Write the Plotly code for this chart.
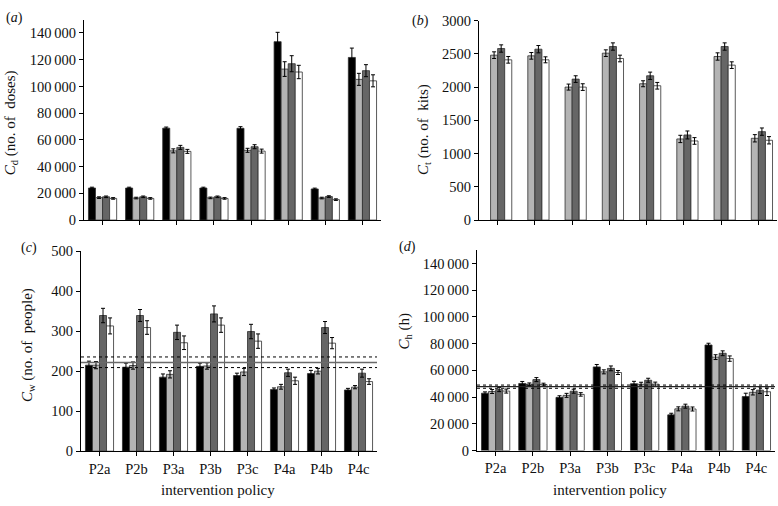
import plotly.graph_objects as go

policies = ["P2a", "P2b", "P3a", "P3b", "P3c", "P4a", "P4b", "P4c"]
series_names = ["strategy 1", "strategy 2", "strategy 3", "strategy 4"]
series_colors = ["#000000", "#b4b4b4", "#666666", "#ffffff"]

# panel (a) C_d
cd_vals = [
    [24000, 24000, 68800, 24000, 68700, 133500, 23300, 121700],
    [16800, 16500, 51800, 16600, 52200, 113000, 16500, 105300],
    [17400, 17400, 54400, 17400, 54900, 117000, 17600, 111800],
    [16200, 16200, 51400, 16200, 51600, 110800, 15300, 104200],
]
cd_err = [
    [600, 600, 800, 600, 1200, 7000, 600, 7000],
    [600, 600, 1500, 600, 1500, 5500, 600, 4500],
    [600, 600, 1500, 600, 1500, 6000, 600, 4500],
    [600, 600, 1500, 600, 1500, 5000, 600, 4500],
]

# panel (b) C_t
ct_vals = [
    [None] * 8,
    [2480, 2470, 2000, 2510, 2050, 1220, 2460, 1230],
    [2580, 2570, 2120, 2610, 2170, 1280, 2610, 1330],
    [2410, 2410, 2000, 2430, 2020, 1190, 2330, 1200],
]
ct_err = [
    [0] * 8,
    [50, 50, 45, 50, 45, 55, 55, 55],
    [55, 55, 50, 55, 55, 60, 55, 55],
    [50, 45, 50, 50, 50, 50, 50, 55],
]

# panel (c) C_w
cw_vals = [
    [215, 210, 185, 212, 189, 154, 194, 153],
    [215, 214, 192, 213, 198, 161, 200, 160],
    [339, 339, 297, 343, 299, 196, 309, 195],
    [313, 309, 271, 315, 275, 176, 270, 174],
]
cw_err = [
    [10, 10, 8, 8, 6, 4, 8, 4],
    [9, 9, 9, 8, 9, 6, 7, 4],
    [18, 15, 18, 20, 18, 9, 15, 10],
    [20, 17, 17, 18, 18, 9, 14, 7],
]
cw_ref = [221.6, 235.5, 209.0]

# panel (d) C_h
ch_vals = [
    [42900, 50200, 39800, 62600, 50000, 26700, 79000, 40400],
    [44200, 49600, 41300, 58900, 49600, 31200, 69900, 43600],
    [45600, 53100, 44400, 61500, 52600, 33200, 72800, 45200],
    [44500, 49400, 42000, 58400, 49700, 31100, 68800, 44000],
]
ch_err = [
    [1000, 1500, 1200, 1800, 1800, 1200, 1300, 2500],
    [1500, 1000, 1500, 1500, 1500, 1500, 1800, 2000],
    [1500, 1500, 1500, 1800, 1500, 1500, 1800, 2500],
    [1500, 1000, 1300, 1500, 1500, 1500, 2000, 2800],
]
ch_ref = [47800, 49000, 46600]

big_ticks = [0, 20000, 40000, 60000, 80000, 100000, 120000, 140000]
big_text = ["0", "20\u2009000", "40\u2009000", "60\u2009000", "80\u2009000",
            "100\u2009000", "120\u2009000", "140\u2009000"]

W, H = 778, 506
FONT = "Liberation Serif"

fig = go.Figure()

panels = [
    ("x", "y", cd_vals, cd_err),
    ("x2", "y2", ct_vals, ct_err),
    ("x3", "y3", cw_vals, cw_err),
    ("x4", "y4", ch_vals, ch_err),
]
for xa, ya, vals, errs in panels:
    for i in range(4):
        fig.add_trace(go.Bar(
            x=policies, y=vals[i], name=series_names[i], xaxis=xa, yaxis=ya,
            marker=dict(color=series_colors[i], line=dict(color="#303030", width=0.8)),
            error_y=dict(type="data", array=errs[i], color="#000000", thickness=1, width=2),
            showlegend=False,
        ))

def px_dom_x(a, b):
    return [a / W, b / W]

def px_dom_y(top, bottom):
    return [1 - bottom / H, 1 - top / H]

axis_common = dict(showline=True, linecolor="#000000", linewidth=1, ticks="outside",
                   ticklen=4, tickcolor="#000000", showgrid=False, zeroline=False,
                   tickfont=dict(family=FONT, size=14.5, color="#111111"))

doms = {
    1: (px_dom_x(84, 381), px_dom_y(12, 219)),
    2: (px_dom_x(479, 777), px_dom_y(13, 219)),
    3: (px_dom_x(81, 377), px_dom_y(251, 457.7)),
    4: (px_dom_x(477, 775), px_dom_y(250, 457)),
}
layout = {}
for k in range(1, 5):
    xs = "xaxis" if k == 1 else f"xaxis{k}"
    ys = "yaxis" if k == 1 else f"yaxis{k}"
    yref = "y" if k == 1 else f"y{k}"
    xref = "x" if k == 1 else f"x{k}"
    layout[xs] = dict(axis_common, domain=doms[k][0], anchor=yref,
                      showticklabels=(k >= 3), range=[-0.5, 7.5])
    layout[ys] = dict(axis_common, domain=doms[k][1], anchor=xref)

layout["yaxis"].update(range=[0, 150000], tickvals=big_ticks, ticktext=big_text)
layout["yaxis2"].update(range=[0, 3000], tickvals=[0, 500, 1000, 1500, 2000, 2500, 3000])
layout["yaxis3"].update(range=[0, 500], tickvals=[0, 100, 200, 300, 400, 500])
layout["yaxis4"].update(range=[0, 150000], tickvals=big_ticks, ticktext=big_text)

fig.update_layout(
    width=W, height=H, margin=dict(l=0, r=0, t=0, b=0),
    plot_bgcolor="white", paper_bgcolor="white",
    barmode="group", bargap=0.24, bargroupgap=0,
    font=dict(family=FONT, size=14, color="#111111"),
    **layout,
)

# reference lines
shapes = []
for j, v in enumerate(cw_ref):
    shapes.append(dict(type="line", xref="x3 domain", yref="y3", x0=0, x1=1, y0=v, y1=v,
                       line=dict(color="#6a6a6a" if j == 0 else "#000000",
                                 width=1.6 if j == 0 else 1,
                                 dash="solid" if j == 0 else "dot")))
for j, v in enumerate(ch_ref):
    shapes.append(dict(type="line", xref="x4 domain", yref="y4", x0=0, x1=1, y0=v, y1=v,
                       line=dict(color="#222222" if j == 0 else "#000000",
                                 width=1.4 if j == 0 else 1,
                                 dash="solid" if j == 0 else "dot")))
fig.update_layout(shapes=shapes)

def ann(text, x, y, size=15, angle=0):
    fig.add_annotation(text=text, x=x / W, y=1 - y / H, xref="paper", yref="paper",
                       showarrow=False, textangle=angle, xanchor="center", yanchor="middle",
                       font=dict(family=FONT, size=size, color="#111111"))

ann("(<i>a</i>)", 14, 10, size=14)
ann("(<i>b</i>)", 420, 13, size=14)
ann("(<i>c</i>)", 29, 248, size=14)
ann("(<i>d</i>)", 407, 247, size=14)

ann("<i>C</i><sub>d</sub> (no. of  doses)", 11, 119, size=15, angle=-90)
ann("<i>C</i><sub>t</sub> (no. of  kits)", 424, 125, size=15, angle=-90)
ann("<i>C</i><sub>w</sub> (no. of  people)", 28, 348, size=15, angle=-90)
ann("<i>C</i><sub>h</sub> (h)", 405, 334, size=15, angle=-90)

ann("intervention policy", 218, 498, size=15)
ann("intervention policy", 610, 498, size=15)

fig.write_html("out.html", config={"displayModeBar": False},
               post_script="document.body.style.margin='0';document.body.style.overflow='hidden';")
